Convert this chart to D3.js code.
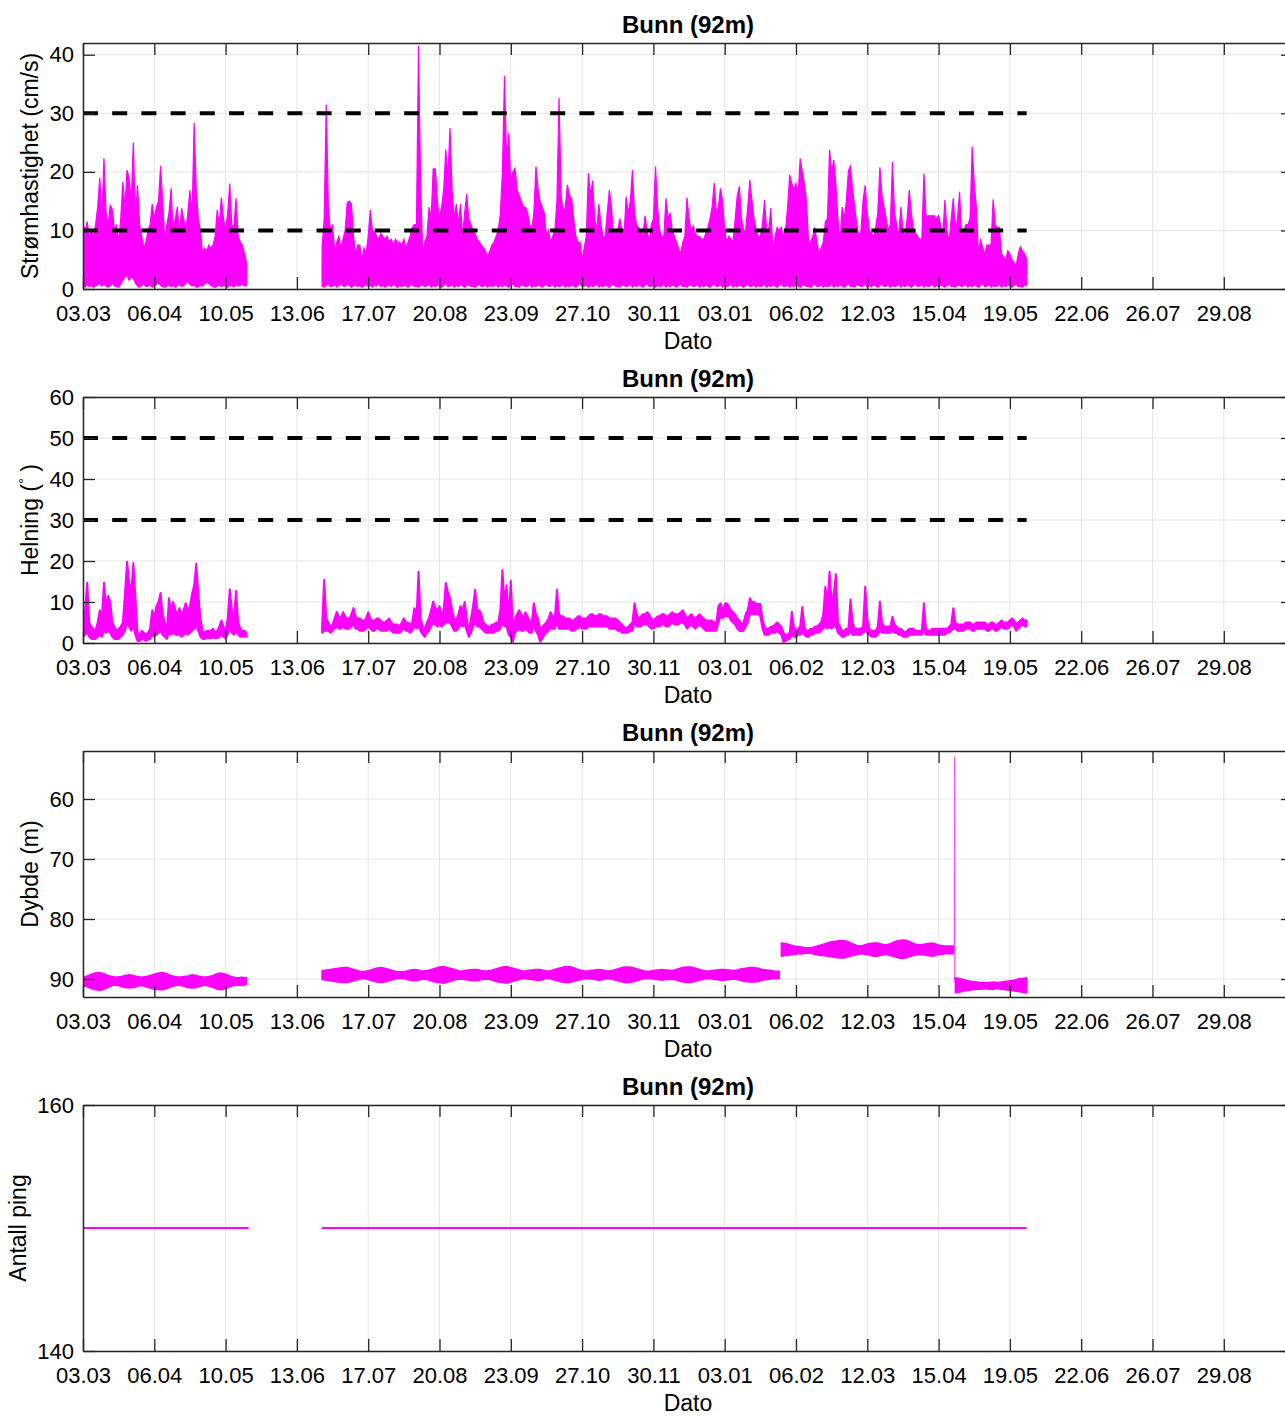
<!DOCTYPE html>
<html>
<head>
<meta charset="utf-8">
<script src="https://cdn.jsdelivr.net/npm/d3@7"></script>
<style>
  body { margin: 0; background: #fff; }
  svg { display: block; }
  .grid { stroke: #e6e6e6; stroke-width: 1; }
  .axis { color: #262626; }
  .axis path.domain { stroke-width: 1.5; }
  .axis .tick line { stroke-width: 1.3; }
  .axis text { font-family: "Liberation Sans", Arial, sans-serif; font-size: 22px; fill: #000; }
  .title { font-family: "Liberation Sans", Arial, sans-serif; font-size: 24px; font-weight: bold; fill: #000; }
  .label { font-family: "Liberation Sans", Arial, sans-serif; font-size: 23px; fill: #000; }
</style>
</head>
<body>
<svg id="chart" width="1285" height="1416"></svg>
<script>
// ---- time axis ----
const xStart = "2022-03-03";
const xEnd = "2023-10-01";
const tickDates = ["2022-03-03", "2022-04-06", "2022-05-10", "2022-06-13", "2022-07-17",
  "2022-08-20", "2022-09-23", "2022-10-27", "2022-11-30", "2023-01-03", "2023-02-06",
  "2023-03-12", "2023-04-15", "2023-05-19", "2023-06-22", "2023-07-26", "2023-08-29"];
const logSpan = ["2022-03-03", "2023-05-27"];
const segmentStarts = ["2022-03-03", "2022-06-25"];

// ---- Strømhastighet (cm/s): daily max / min, two deployments ----
const speedTicks = [0, 10, 20, 30, 40];
const speedLimits = [10, 30];
const speedMaxA = [11, 10, 11.5, 9, 10, 9, 11, 14, 19, 12,
  22.3, 13, 11, 14.4, 13.5, 10, 11, 8, 12, 18.3,
  14, 20.3, 19, 15, 25, 12, 17.7, 11, 9, 7,
  8, 10, 11, 14.5, 12, 14, 15, 21, 15, 8,
  11, 13, 17.2, 10, 12, 14, 9, 13.8, 12, 10,
  13, 16.9, 12, 28.4, 17, 12, 10, 6, 7, 6.5,
  7.5, 7, 7.5, 9, 13.5, 11, 15.6, 12, 10, 13,
  18, 10.5, 11, 15.5, 9, 8, 7.5, 6, 4.5];
const speedMinA = [0.5, 0.3, 0.8, 0.4, 0.6, 0.3, 0.5, 0.7, 1, 0.5,
  0.8, 0.5, 0.3, 0.6, 1, 0.5, 0.4, 0.3, 0.8, 1.5,
  2, 2.3, 1.5, 2, 1.8, 1, 0.5, 0.3, 0.6, 0.8,
  0.4, 0.5, 0.7, 0.3, 0.5, 0.8, 1, 0.6, 0.4, 0.3,
  0.5, 0.7, 0.4, 0.6, 0.3, 0.5, 0.8, 0.4, 0.6, 1,
  1.2, 0.8, 0.5, 0.7, 0.3, 0.4, 0.6, 0.5, 0.8, 1.1,
  0.9, 0.6, 0.4, 0.3, 0.5, 0.7, 0.4, 0.6, 0.5, 0.3,
  0.6, 0.5, 0.4, 0.7, 0.5, 0.6, 0.8, 0.5, 0.6];
const speedMaxB = [7, 12, 31.5, 14, 10, 11, 6.5, 8, 9, 7,
  8.5, 10, 14.7, 15, 14.5, 9, 6, 7.5, 7.5, 5,
  7, 6, 9, 13.5, 10, 9.8, 9, 8.5, 9.5, 9,
  8.5, 9, 8, 8.5, 7.5, 8.5, 8, 8, 7.5, 8.5,
  7, 8, 9, 10.5, 11, 11, 41.5, 18, 6, 8,
  9, 14, 12, 20.5, 20.5, 15, 12, 14, 17, 23.8,
  19, 27.5, 17, 12, 14.5, 11, 14.5, 9, 13, 16.2,
  12, 11, 10, 9.5, 8.5, 8, 7.5, 7, 6.5, 5.5,
  6.5, 7.5, 8, 9, 10, 12.8, 20, 36.4, 21.8, 26.6,
  18, 20, 20.6, 17, 16, 15, 14, 14, 13, 11,
  10, 13, 20.9, 17, 15, 14, 13, 9, 10, 8,
  9, 10, 15, 32.6, 16, 13, 14, 17.8, 16, 15.5,
  12, 9, 8, 8, 5, 7, 9, 19.8, 16, 18.5,
  12, 10, 14.5, 11, 9, 9, 13, 16.9, 14, 9,
  10, 10, 12, 10, 9, 15.8, 13, 15, 20.3, 13,
  11, 10.5, 10, 9, 12.5, 10, 8, 11, 12, 20.9,
  14, 10, 9, 9, 15.5, 12, 13, 10, 9, 8,
  7, 6, 8, 9, 15.6, 12, 10, 10.8, 9.5, 9,
  9, 8.5, 8.5, 9.5, 10.5, 12, 14, 18.1, 13, 14,
  17.2, 15, 10, 8, 9, 8.5, 8, 12, 16, 17.5,
  12, 10, 10, 14, 18.6, 15, 12, 10, 9, 9,
  11, 15.2, 10, 10, 13.8, 6, 9, 10.5, 10, 10.5,
  9, 10, 14, 19.5, 18, 17, 18, 16, 22.3, 20,
  18, 15, 8, 8, 9, 10.5, 8, 6, 7, 8,
  11.5, 12, 23.8, 20, 22, 18, 12, 8, 14, 12,
  15, 20.2, 21, 17, 14, 11, 9, 10, 15.2, 17.7,
  13, 10, 9.5, 9, 10.5, 13, 20.8, 16, 14, 12,
  10, 11, 21.7, 13, 11, 9, 14, 10, 9, 12,
  16.9, 13, 10, 9.5, 9, 8.5, 8.5, 19.7, 12.5, 12.5,
  12.5, 12.5, 12.5, 12, 12.5, 11, 9, 15.2, 10, 8,
  12, 15.5, 10, 12, 16.6, 9, 10, 11, 11, 12,
  24.3, 18, 14, 6, 8.6, 7, 6, 7.5, 7.5, 7.5,
  15.3, 11, 10.5, 10.5, 6, 5.5, 5, 6.5, 6, 5,
  4.5, 4, 6, 7.2, 6.5, 6, 5];
const speedMinB = [0.5, 0.3, 0.6, 0.8, 0.4, 0.5, 0.7, 0.3, 0.6, 0.9,
  0.5, 0.4, 0.8, 0.6, 0.3, 0.5, 0.7, 0.4, 0.6, 0.3,
  0.5, 0.8, 0.4, 0.6, 0.3, 0.7, 0.5, 0.9, 0.4, 0.6,
  0.3, 0.5, 0.7, 0.4, 0.8, 0.5, 0.3, 0.6, 0.4, 0.7,
  0.5, 0.3, 0.6, 0.8, 0.4, 0.5, 0.3, 0.7, 0.6, 0.4,
  0.5, 0.8, 0.3, 0.6, 0.4, 0.7, 0.5, 0.3, 0.6, 0.9,
  0.4, 0.5, 0.7, 0.3, 0.6, 0.4, 0.8, 0.5, 0.3, 0.6,
  0.7, 0.4, 0.5, 0.3, 0.6, 0.8, 0.4, 0.5, 0.7, 0.3,
  0.6, 0.4, 0.5, 0.8, 0.3, 0.6, 0.4, 0.7, 0.5, 0.3,
  0.6, 0.9, 0.4, 0.5, 0.3, 0.7, 0.6, 0.4, 0.5, 0.8,
  0.3, 0.6, 0.4, 0.7, 0.5, 0.3, 0.6, 0.8, 0.4, 0.5,
  0.7, 0.3, 0.6, 0.4, 0.5, 0.8, 0.3, 0.6, 0.4, 0.7,
  0.5, 0.3, 0.6, 0.9, 0.4, 0.5, 0.7, 0.3, 0.6, 0.4,
  0.5, 0.8, 0.3, 0.6, 0.4, 0.7, 0.5, 0.3, 0.6, 0.8,
  0.4, 0.5, 0.3, 0.7, 0.6, 0.4, 0.5, 0.8, 0.3, 0.6,
  0.4, 0.7, 0.5, 0.3, 0.6, 0.9, 0.4, 0.5, 0.7, 0.3,
  0.6, 0.4, 0.5, 0.8, 0.3, 0.6, 0.4, 0.7, 0.5, 0.3,
  0.6, 0.8, 0.4, 0.5, 0.3, 0.7, 0.6, 0.4, 0.5, 0.8,
  0.3, 0.6, 0.4, 0.7, 0.5, 0.3, 0.6, 0.9, 0.4, 0.5,
  0.7, 0.3, 0.6, 0.4, 0.5, 0.8, 0.3, 0.6, 0.4, 0.7,
  0.5, 0.3, 0.6, 0.8, 0.4, 0.5, 0.7, 0.3, 0.6, 0.4,
  0.5, 0.8, 0.3, 0.6, 0.4, 0.7, 0.5, 0.3, 0.6, 0.9,
  0.4, 0.5, 0.7, 0.3, 0.6, 0.4, 0.8, 0.5, 0.3, 0.6,
  0.7, 0.4, 0.5, 0.3, 0.6, 0.8, 0.4, 0.5, 0.7, 0.3,
  0.6, 0.4, 0.5, 0.8, 0.3, 0.6, 0.4, 0.7, 0.5, 0.3,
  0.6, 0.9, 0.4, 0.5, 0.3, 0.7, 0.6, 0.4, 0.5, 0.8,
  0.3, 0.6, 0.4, 0.7, 0.5, 0.3, 0.6, 0.8, 0.4, 0.5,
  0.7, 0.3, 0.6, 0.4, 0.5, 0.8, 0.3, 0.6, 0.4, 0.7,
  0.5, 0.3, 0.6, 0.9, 0.4, 0.5, 0.7, 0.3, 0.6, 0.4,
  0.5, 0.8, 0.3, 0.6, 0.4, 0.7, 0.5, 0.3, 0.6, 0.8,
  0.4, 0.5, 0.3, 0.7, 0.6, 0.4, 0.5, 0.8, 0.3, 0.6,
  0.4, 0.7, 0.5, 0.3, 0.6, 0.9, 0.4, 0.5, 0.7, 0.3,
  0.6, 0.4, 0.5, 0.8, 0.3, 0.6, 0.4, 0.7, 0.5, 0.3,
  0.6, 0.8, 0.4, 0.5, 0.3, 0.7, 0.6];

// ---- Helning (degrees): daily max / min ----
const tiltTicks = [0, 10, 20, 30, 40, 50, 60];
const tiltLimits = [30, 50];
const tiltMaxA = [6, 8, 14.7, 5, 4, 3.5, 3, 5, 8, 6,
  14.7, 9, 11.5, 10, 5, 4, 3, 3.5, 4, 5,
  12, 19.8, 15, 12, 19.5, 11, 2.5, 2, 3, 2.5,
  2, 2.5, 3.5, 8, 6, 9, 10, 12.2, 7, 5,
  3, 10.9, 8, 10, 8, 7, 8.5, 7, 8, 9.7,
  8, 9, 12, 14, 19.3, 12, 6, 3, 2.5, 3,
  3, 3, 3.5, 2.5, 3, 4, 5.5, 4, 3, 6,
  13.1, 8, 6, 12.7, 5, 3.5, 3, 3, 2.5];
const tiltMinA = [1.5, 2, 2.5, 1.5, 1, 1, 1, 1.5, 2, 1.5,
  3, 2.5, 3, 2.5, 1.5, 1, 1, 1, 1.5, 2,
  3, 5, 4, 3, 4, 2, 0.5, 0.5, 1, 0.8,
  0.5, 0.8, 1, 2, 1.5, 2, 2.5, 3, 2, 1.5,
  1, 2.5, 2, 2.5, 2, 2, 2, 1.5, 2, 2.5,
  2, 2.5, 3, 3.5, 4, 3, 1.5, 1, 1, 1.2,
  1.2, 1.2, 1.5, 1.2, 1.2, 1.5, 2, 1.5, 1.2, 2,
  3.5, 2.5, 2, 3, 2, 1.5, 1.5, 1.5, 1.5];
const tiltMaxB = [4, 15.4, 6, 5, 4, 4.5, 6, 7.6, 6.5, 6,
  7.5, 6.5, 6, 6, 7, 8.5, 6.5, 6, 6, 5.5,
  5.5, 6, 7.5, 6, 5.5, 5.5, 6, 6, 5.5, 5,
  5, 5.5, 6, 5, 4.5, 4.5, 4.5, 4, 5, 6,
  5, 5, 4.5, 5, 8.5, 6, 17.4, 6, 4, 3.5,
  5, 6, 8, 10.1, 8.5, 8, 9, 7, 8, 14.7,
  12.5, 11, 8, 6, 5.5, 7, 9, 8, 10, 6,
  3, 6, 9, 13, 8, 8, 7, 5, 4.5, 4,
  4, 4.5, 4.5, 5, 5, 8, 17.8, 10, 14, 6,
  15.2, 3.5, 6, 7, 8, 7, 6, 7.5, 6.5, 5.5,
  5, 9.7, 7, 6, 3.5, 4, 4.5, 5, 6, 7.5,
  6.5, 6, 13, 7, 6.5, 6.5, 6, 6, 6, 5.5,
  5.5, 6, 6.5, 6.5, 6, 6, 6, 6.5, 7, 7,
  6.5, 6.5, 7, 7, 6.5, 6.5, 6.5, 6, 6, 6,
  6, 5.5, 5, 4.5, 4, 3.5, 4, 4.5, 5, 9.7,
  7, 6, 6.5, 7, 7, 7.5, 7, 6, 5.5, 6,
  6.5, 6.5, 7, 7, 6.5, 6.5, 7, 7.5, 7, 7,
  7, 7.5, 8, 7, 6, 6.5, 7, 6.5, 6, 6.5,
  7, 6.5, 6, 5.5, 5.5, 5.5, 5.5, 5, 5, 9,
  9.7, 8, 9.5, 9.7, 9, 8, 7.5, 7, 6, 5.5,
  4.5, 5, 7, 8, 10.9, 10, 10, 9.5, 9.5, 9.5,
  6, 4, 3.5, 3.5, 4, 4, 4.5, 5, 4.5, 4,
  2.5, 2, 2, 2.5, 7.6, 4, 3, 3.5, 4, 8.8,
  4, 3, 3, 3.5, 3.5, 4, 4, 4.5, 5, 7,
  13.7, 10, 17.4, 10, 12, 16.8, 5, 4, 3, 3,
  3.5, 3.5, 10.6, 5, 3.5, 3.5, 3.5, 3.5, 4, 13.7,
  6, 3.5, 3, 3, 3, 4, 10.1, 5, 4, 4,
  4, 4, 6.4, 4.5, 4, 3.5, 3.5, 3, 2.5, 3,
  3.5, 3.5, 3.5, 3, 3, 3, 3, 9.7, 3.5, 3,
  3, 3.5, 3.5, 3.5, 3.5, 3.5, 3.5, 3.5, 3.5, 4,
  4.5, 8.5, 5, 4.5, 4.5, 4.5, 4.5, 5, 5, 5,
  4.5, 4.5, 5, 5, 5, 5, 5, 4.5, 4.5, 5,
  5, 4.5, 4.5, 5, 5.5, 5, 5, 5, 5.5, 6,
  5.5, 4.5, 5, 5.5, 6, 5.5, 5.5];
const tiltMinB = [2.5, 3, 3, 3, 2.5, 3, 3.5, 4, 3.5, 3.5,
  4, 3.5, 3.5, 3.5, 4, 4.5, 3.5, 3.5, 3, 3,
  3, 3.5, 4, 3.5, 3, 3, 3.5, 3.5, 3, 3,
  3, 3, 3.5, 3, 2.5, 2.5, 2.5, 2.5, 3, 3.5,
  3, 3, 2.5, 3, 4, 3.5, 4, 3, 2, 1.5,
  2.5, 3, 4, 5, 4.5, 4, 4.5, 4, 4.5, 5,
  5, 5, 4, 3, 3, 3.5, 4.5, 4, 4.5, 3,
  1.5, 2.5, 4, 5, 4, 4, 3.5, 3, 2.5, 2.5,
  2.5, 2.5, 2.5, 3, 3, 3.5, 5, 4, 4, 2,
  1.5, 0.3, 2.5, 3, 3.5, 3, 3, 3.5, 3, 2.5,
  2.5, 4, 3, 2, 0.3, 1, 2, 2.5, 3, 3.5,
  3.5, 3.5, 5, 3.5, 3.5, 3.5, 3.5, 3.5, 3.5, 3,
  3, 3.5, 3.5, 4, 3.5, 3.5, 3.5, 4, 4, 4,
  4, 4, 4, 4, 4, 4, 4, 3.5, 3.5, 3.5,
  3.5, 3, 3, 2.5, 2.5, 2.5, 2.5, 3, 3, 5,
  4, 4, 4, 4.5, 4.5, 4.5, 4, 3.5, 3.5, 4,
  4, 4, 4.5, 4.5, 4, 4, 4.5, 5, 4.5, 4.5,
  4.5, 5, 5, 4.5, 3.5, 4, 4.5, 4, 3.5, 4,
  4.5, 4, 3.5, 3, 3, 3, 3, 3, 3, 5,
  6.5, 6, 6.5, 6.5, 6.5, 5.5, 5, 4.5, 3.5, 3,
  2.9, 3, 4, 5, 7, 7, 7, 7, 7, 6.5,
  3.5, 2, 2, 2, 2.5, 2.5, 2.5, 3, 2.5, 2,
  0.3, 0.5, 0.8, 1, 2, 1.5, 1.5, 2, 2, 2.5,
  2, 1.5, 1.5, 2, 2, 2.5, 2.5, 2.5, 3, 3.5,
  4, 3.5, 4, 3.5, 4, 4, 2.5, 2, 1.5, 1.5,
  2, 2, 3, 2, 2, 2, 2, 2, 2.5, 3,
  2.5, 2, 1.5, 1.5, 1.5, 2, 3, 2.5, 2.5, 2.5,
  2.5, 2.5, 3, 2.5, 2.5, 2, 2, 1.5, 1.5, 1.5,
  2, 2, 2, 2, 2, 2, 2, 3, 2, 2,
  2, 2, 2, 2, 2, 2, 2, 2, 2.5, 2.5,
  3, 3.5, 3.5, 3, 3, 3, 3, 3.5, 3.5, 3.5,
  3, 3, 3.5, 3.5, 3.5, 3.5, 3.5, 3, 3, 3.5,
  3.5, 3, 3, 3.5, 4, 3.5, 3.5, 3.5, 4, 4.5,
  4, 3, 3.5, 4, 4.5, 4, 4];

// ---- Dybde (m): band top / bottom every second day ----
const depthTicks = [60, 70, 80, 90];
const depthStarts = ["2022-03-03", "2022-06-25", "2023-01-30", "2023-04-23"];
const depthTopA = [89.7, 89.5, 89.2, 89.0, 88.9, 89.1, 89.4, 89.6, 89.7, 89.6,
  89.4, 89.3, 89.4, 89.6, 89.7, 89.6, 89.4, 89.2, 89.0, 88.9,
  89.1, 89.4, 89.6, 89.7, 89.6, 89.5, 89.3, 89.4, 89.6, 89.7,
  89.6, 89.4, 89.1, 89.0, 89.2, 89.5, 89.7, 89.8, 89.7, 89.8];
const depthBotA = [91.1, 91.3, 91.6, 91.8, 91.9, 91.7, 91.4, 91.1, 91.0, 91.2,
  91.4, 91.5, 91.4, 91.2, 91.1, 91.3, 91.5, 91.7, 91.8, 91.8,
  91.6, 91.3, 91.1, 91.0, 91.2, 91.4, 91.5, 91.4, 91.2, 91.0,
  91.2, 91.4, 91.7, 91.8, 91.6, 91.3, 91.1, 91.0, 91.1, 90.9];
const depthTopB = [88.6, 88.5, 88.4, 88.3, 88.2, 88.1, 88.1, 88.3, 88.5, 88.7,
  88.8, 88.6, 88.4, 88.2, 88.1, 88.2, 88.4, 88.6, 88.8, 88.8,
  88.7, 88.5, 88.4, 88.5, 88.7, 88.6, 88.4, 88.2, 88.0, 87.9,
  88.1, 88.3, 88.5, 88.7, 88.6, 88.5, 88.4, 88.4, 88.6, 88.7,
  88.6, 88.4, 88.2, 88.0, 87.9, 88.1, 88.3, 88.5, 88.7, 88.6,
  88.5, 88.4, 88.4, 88.6, 88.7, 88.5, 88.3, 88.1, 87.9, 87.9,
  88.1, 88.4, 88.6, 88.7, 88.6, 88.5, 88.4, 88.5, 88.7, 88.6,
  88.4, 88.2, 88.0, 88.0, 88.1, 88.3, 88.5, 88.7, 88.7, 88.6,
  88.5, 88.4, 88.5, 88.6, 88.5, 88.3, 88.1, 88.0, 88.0, 88.2,
  88.4, 88.6, 88.7, 88.6, 88.5, 88.4, 88.4, 88.5, 88.6, 88.5,
  88.3, 88.2, 88.1, 88.1, 88.2, 88.4, 88.5, 88.6, 88.7, 88.7];
const depthBotB = [90.1, 90.2, 90.3, 90.4, 90.5, 90.6, 90.6, 90.4, 90.2, 90.0,
  89.9, 90.1, 90.3, 90.5, 90.6, 90.5, 90.3, 90.1, 89.9, 89.9,
  90.0, 90.2, 90.3, 90.2, 90.0, 90.1, 90.3, 90.5, 90.6, 90.7,
  90.5, 90.3, 90.1, 90.0, 90.1, 90.2, 90.3, 90.3, 90.1, 90.0,
  90.1, 90.3, 90.5, 90.6, 90.7, 90.5, 90.3, 90.1, 89.9, 90.0,
  90.1, 90.2, 90.2, 90.0, 89.9, 90.1, 90.3, 90.5, 90.6, 90.6,
  90.4, 90.2, 90.0, 89.9, 90.0, 90.1, 90.2, 90.1, 89.9, 90.0,
  90.2, 90.4, 90.6, 90.6, 90.5, 90.3, 90.1, 89.9, 89.9, 90.0,
  90.1, 90.2, 90.1, 90.0, 90.1, 90.3, 90.5, 90.6, 90.6, 90.4,
  90.2, 90.0, 89.9, 90.0, 90.1, 90.2, 90.2, 90.1, 90.0, 90.1,
  90.3, 90.4, 90.5, 90.5, 90.4, 90.2, 90.1, 90.0, 89.9, 89.9];
const depthTopC = [84.0, 84.1, 84.3, 84.5, 84.6, 84.7, 84.8, 84.8, 84.6, 84.4,
  84.2, 84.0, 83.8, 83.7, 83.6, 83.6, 83.8, 84.1, 84.4, 84.5,
  84.3, 84.1, 84.0, 84.0, 84.2, 84.3, 84.1, 83.8, 83.6, 83.5,
  83.6, 83.9, 84.2, 84.3, 84.2, 84.1, 84.0, 84.2, 84.4, 84.5,
  84.5, 84.5];
const depthBotC = [86.2, 86.1, 86.0, 85.9, 85.8, 85.8, 85.7, 85.7, 85.9, 86.0,
  86.1, 86.2, 86.3, 86.4, 86.5, 86.5, 86.3, 86.1, 85.9, 85.8,
  85.9, 86.0, 86.2, 86.2, 86.0, 85.9, 86.1, 86.3, 86.5, 86.6,
  86.4, 86.2, 86.0, 85.9, 86.0, 86.1, 86.2, 86.0, 85.9, 85.8,
  85.8, 85.8];
const depthTopD = [89.8, 89.9, 90.1, 90.3, 90.4, 90.5, 90.6, 90.6, 90.6, 90.5,
  90.6, 90.5, 90.4, 90.3, 90.2, 90.0, 89.9, 89.8];
const depthBotD = [92.3, 92.2, 92.0, 91.9, 91.8, 91.7, 91.7, 91.6, 91.7, 91.7,
  91.6, 91.7, 91.8, 91.9, 92.0, 92.1, 92.2, 92.3];
// single excursion while the rig was being moved (days after 2023-01-30)
const depthSpikeDays = [82.5, 82.6, 82.7];
const depthSpikeValues = [85.2, 53, 90.5];

// ---- Antall ping ----
const pingTicks = [140, 160];
const pingStart = ["2022-03-03", "2022-06-25"];
const pingEnd = ["2022-05-21", "2023-05-27"];
const pingValue = [150, 150];

// ---------------------------------------------------------------
const DAY = 864e5;
const MAGENTA = "#ff00ff";
const parse = d3.utcParse("%Y-%m-%d");
const at = (start, day) => new Date(+parse(start) + day * DAY);
const X0 = 83, X1 = 1293, PH = 246;
const svg = d3.select("#chart");
svg.append("rect").attr("width", 1285).attr("height", 1416).attr("fill", "#fff");

const x = d3.scaleUtc().domain([parse(xStart), parse(xEnd)]).range([X0, X1]);
const tickTimes = tickDates.map(parse);

function bandData(start, step, lo, hi) {
  return lo.map((v, i) => ({ t: at(start, i * step), lo: v, hi: hi[i] }));
}

function panel(p) {
  const top = p.top, bottom = top + PH;
  const y = d3.scaleLinear().domain(p.domain).range(p.reversed ? [top, bottom] : [bottom, top]);
  const g = svg.append("g");
  const clipId = "clip-" + p.key;
  svg.append("clipPath").attr("id", clipId)
    .append("rect").attr("x", X0).attr("y", top).attr("width", X1 - X0).attr("height", PH);

  g.append("g").selectAll("line").data(tickTimes).join("line").attr("class", "grid")
    .attr("x1", d => x(d)).attr("x2", d => x(d)).attr("y1", top).attr("y2", bottom);
  g.append("g").selectAll("line").data(p.ticks).join("line").attr("class", "grid")
    .attr("x1", X0).attr("x2", X1).attr("y1", d => y(d)).attr("y2", d => y(d));

  const plot = g.append("g").attr("clip-path", `url(#${clipId})`);
  p.draw(plot, y);

  (p.limits || []).forEach(v => {
    plot.append("line")
      .attr("x1", x(parse(logSpan[0]))).attr("x2", x(parse(logSpan[1])))
      .attr("y1", y(v)).attr("y2", y(v))
      .attr("stroke", "#000").attr("stroke-width", 4).attr("stroke-dasharray", "15 14.2");
  });

  g.append("g").attr("class", "axis").attr("transform", `translate(0,${bottom})`)
    .call(d3.axisBottom(x).tickValues(tickTimes).tickFormat(d3.utcFormat("%d.%m"))
      .tickSizeInner(-12).tickSizeOuter(0).tickPadding(16));
  g.append("g").attr("class", "axis").attr("transform", `translate(0,${top})`)
    .call(d3.axisTop(x).tickValues(tickTimes).tickFormat("").tickSizeInner(-12).tickSizeOuter(0));
  g.append("g").attr("class", "axis").attr("transform", `translate(${X0},0)`)
    .call(d3.axisLeft(y).tickValues(p.ticks).tickFormat(d3.format("d"))
      .tickSizeInner(-12).tickSizeOuter(0).tickPadding(9));
  g.append("g").attr("class", "axis").attr("transform", `translate(${X1},0)`)
    .call(d3.axisRight(y).tickValues(p.ticks).tickFormat("").tickSizeInner(-12).tickSizeOuter(0));

  g.append("text").attr("class", "title").attr("x", (X0 + X1) / 2).attr("y", top - 10)
    .attr("text-anchor", "middle").text("Bunn (92m)");
  g.append("text").attr("class", "label").attr("x", (X0 + X1) / 2).attr("y", bottom + 60)
    .attr("text-anchor", "middle").text("Dato");
  const yl = g.append("text").attr("class", "label")
    .attr("transform", `translate(${p.labelX},${(top + bottom) / 2}) rotate(-90)`)
    .attr("text-anchor", "middle");
  p.label(yl);
}

const bandArea = y => d3.area().x(d => x(d.t)).y0(d => y(d.lo)).y1(d => y(d.hi));

panel({
  key: "speed", top: 43, domain: [0, 42], ticks: speedTicks, limits: speedLimits, labelX: 38,
  label: t => t.text("Strømhastighet (cm/s)"),
  draw: (plot, y) => {
    [bandData(segmentStarts[0], 1, speedMinA, speedMaxA),
     bandData(segmentStarts[1], 1, speedMinB, speedMaxB)].forEach(seg => {
      plot.append("path").datum(seg).attr("d", bandArea(y))
        .attr("fill", MAGENTA).attr("stroke", MAGENTA).attr("stroke-width", 1.2)
        .attr("stroke-linejoin", "miter");
    });
  }
});

panel({
  key: "tilt", top: 397, domain: [0, 60], ticks: tiltTicks, limits: tiltLimits, labelX: 38,
  label: t => {
    t.append("tspan").text("Helning (");
    t.append("tspan").attr("dy", -9).attr("font-size", 15).text("°");
    t.append("tspan").attr("dy", 9).text(" )");
  },
  draw: (plot, y) => {
    [bandData(segmentStarts[0], 1, tiltMinA, tiltMaxA),
     bandData(segmentStarts[1], 1, tiltMinB, tiltMaxB)].forEach(seg => {
      plot.append("path").datum(seg).attr("d", bandArea(y))
        .attr("fill", MAGENTA).attr("stroke", MAGENTA).attr("stroke-width", 2)
        .attr("stroke-linejoin", "round");
    });
  }
});

panel({
  key: "depth", top: 751, domain: [52, 93], reversed: true, ticks: depthTicks, labelX: 38,
  label: t => t.text("Dybde (m)"),
  draw: (plot, y) => {
    [[depthTopA, depthBotA], [depthTopB, depthBotB], [depthTopC, depthBotC], [depthTopD, depthBotD]]
      .forEach(([tp, bt], i) => {
        plot.append("path").datum(bandData(depthStarts[i], 2, tp, bt)).attr("d", bandArea(y))
          .attr("fill", MAGENTA).attr("stroke", MAGENTA).attr("stroke-width", 1.5);
      });
    const spike = depthSpikeDays.map((d, i) => ({ t: at(depthStarts[2], d), v: depthSpikeValues[i] }));
    plot.append("path").datum(spike)
      .attr("d", d3.line().x(d => x(d.t)).y(d => y(d.v)))
      .attr("fill", "none").attr("stroke", MAGENTA).attr("stroke-width", 1.2).attr("opacity", 0.7);
  }
});

panel({
  key: "ping", top: 1105, domain: [140, 160], ticks: pingTicks, labelX: 26,
  label: t => t.text("Antall ping"),
  draw: (plot, y) => {
    pingValue.forEach((v, i) => {
      const seg = [{ t: parse(pingStart[i]), v }, { t: parse(pingEnd[i]), v }];
      plot.append("path").datum(seg)
        .attr("d", d3.line().x(d => x(d.t)).y(d => y(d.v)))
        .attr("fill", "none").attr("stroke", MAGENTA).attr("stroke-width", 2);
    });
  }
});
</script>
</body>
</html>
